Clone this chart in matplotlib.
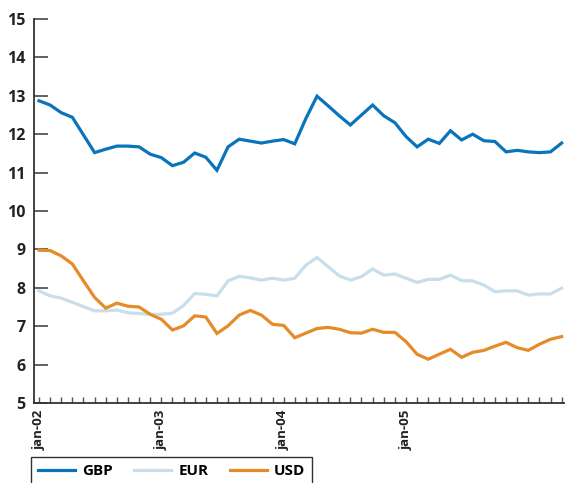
import matplotlib
matplotlib.use("Agg")
import matplotlib.pyplot as plt
import numpy as np

plt.rcParams['font.family'] = ['Open Sans', 'DejaVu Sans']

gbp = [12.87, 12.76, 12.56, 12.44, 11.98, 11.52, 11.61, 11.69, 11.69, 11.67, 11.48, 11.39,
       11.18, 11.27, 11.51, 11.40, 11.06, 11.67, 11.87, 11.82, 11.77, 11.82, 11.86, 11.75,
       12.41, 12.99, 12.74, 12.48, 12.24, 12.50, 12.76, 12.48, 12.30, 11.94, 11.67, 11.87,
       11.76, 12.09, 11.85, 12.00, 11.83, 11.81, 11.54, 11.58, 11.54, 11.52, 11.54, 11.77]
eur = [7.92, 7.79, 7.73, 7.62, 7.51, 7.40, 7.40, 7.42, 7.35, 7.33, 7.31, 7.31,
       7.34, 7.54, 7.85, 7.83, 7.79, 8.18, 8.30, 8.26, 8.20, 8.25, 8.20, 8.25,
       8.59, 8.79, 8.55, 8.31, 8.20, 8.29, 8.49, 8.33, 8.36, 8.25, 8.14, 8.22,
       8.22, 8.33, 8.19, 8.18, 8.07, 7.90, 7.92, 7.92, 7.81, 7.84, 7.84, 7.99]
usd = [8.98, 8.97, 8.83, 8.62, 8.18, 7.75, 7.47, 7.60, 7.52, 7.50, 7.31, 7.18,
       6.90, 7.01, 7.27, 7.24, 6.81, 7.01, 7.29, 7.41, 7.29, 7.05, 7.02, 6.70,
       6.82, 6.94, 6.97, 6.92, 6.83, 6.82, 6.92, 6.84, 6.84, 6.60, 6.27, 6.14,
       6.27, 6.40, 6.19, 6.32, 6.37, 6.48, 6.58, 6.44, 6.37, 6.53, 6.66, 6.73]
series_names = ['GBP', 'EUR', 'USD']
x_labels = ['jan-02', 'jan-03', 'jan-04', 'jan-05']
x_label_pos = [0, 11, 22, 33]
y_ticks = [5, 6, 7, 8, 9, 10, 11, 12, 13, 14, 15]

colors = ['#0a74bb', '#c8deeb', '#e58b27']

fig = plt.figure(figsize=(5.65, 4.83), dpi=100)
ax = fig.add_axes([34/565, 1 - 403/483, 1 - 34/565, (403 - 19)/483])

x = np.arange(len(gbp))
for vals, name, c in zip([gbp, eur, usd], series_names, colors):
    ax.plot(x, vals, color=c, lw=2.3, label=name, solid_joinstyle='miter')

ax.set_xlim(-0.45, 47.3)
ax.set_ylim(5, 15)
ax.spines['top'].set_visible(False)
ax.spines['right'].set_visible(False)
for s in ['left', 'bottom']:
    ax.spines[s].set_color('#333333')
    ax.spines[s].set_linewidth(1.3)

ax.set_yticks(y_ticks)
ax.set_yticklabels([str(v) for v in y_ticks], fontsize=11.5, fontweight='bold', color='#222222')
ax.tick_params(axis='y', direction='in', length=10, width=1.3, color='#555555', pad=6)

ax.set_xticks(x, minor=True)
ax.set_xticks(x_label_pos)
ax.set_xticklabels(x_labels, rotation=90, fontsize=9.5, fontweight='bold', color='#222222')
ax.tick_params(axis='x', which='both', direction='in', length=4, width=1, color='#555555', pad=5)

fig.legend(loc='upper left', bbox_to_anchor=(31/565, 1 - 457/483), ncol=3,
           frameon=True, fancybox=False, edgecolor='#333333', framealpha=1,
           prop={'size': 11, 'weight': 'bold'}, handlelength=2.4, columnspacing=1.4,
           borderpad=0.45, handletextpad=0.5, borderaxespad=0)

fig.savefig('out.png', dpi=100)
